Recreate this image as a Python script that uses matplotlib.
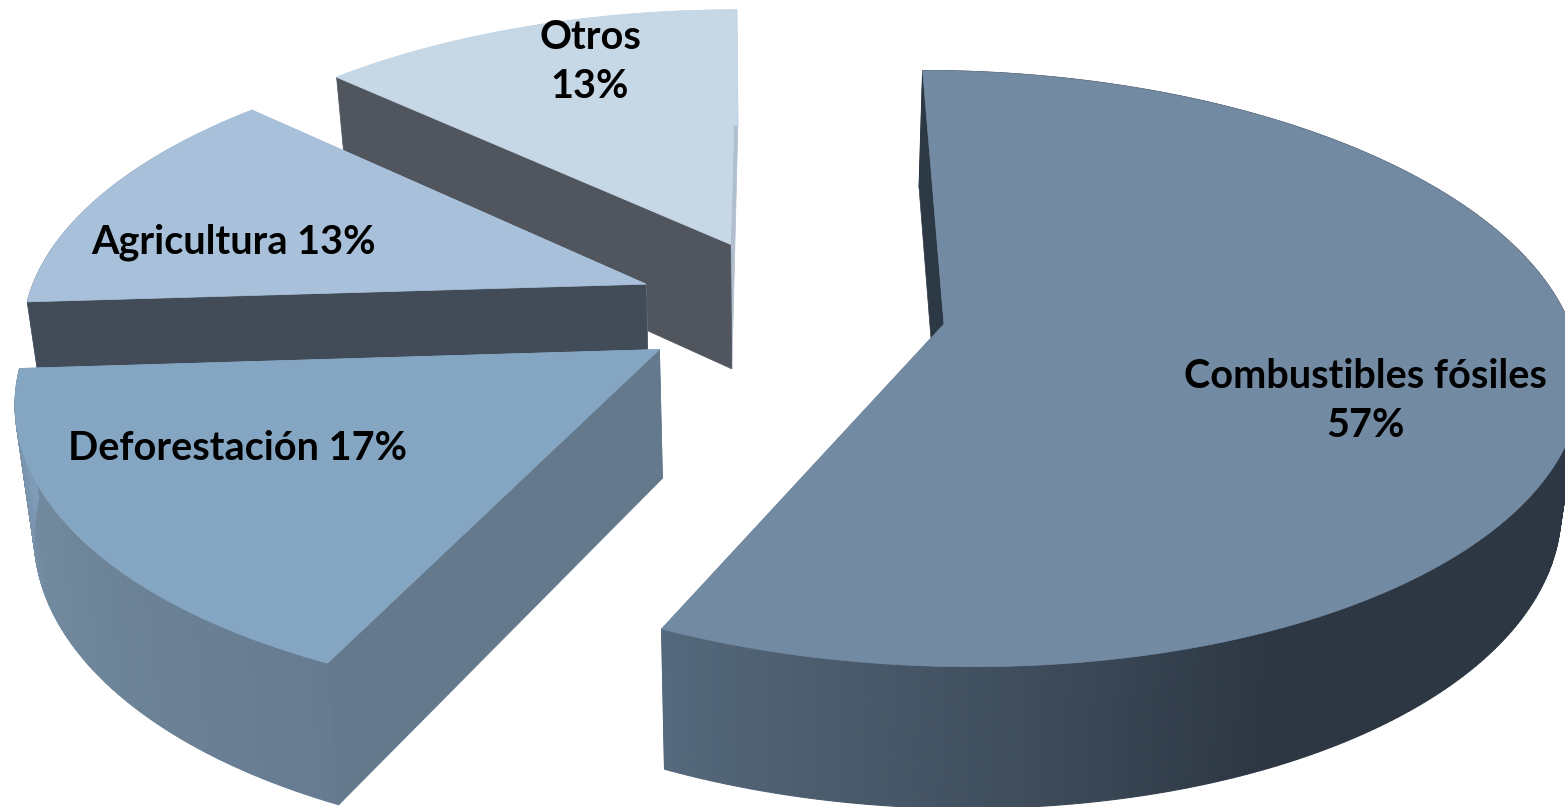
import numpy as np
import matplotlib
matplotlib.use("Agg")
import matplotlib.pyplot as plt
from matplotlib.colors import LinearSegmentedColormap

# Values
categories = ["Combustibles fósiles", "Deforestación", "Agricultura", "Otros"]
shares = [57, 17, 13, 13]
label_breaks = ["\n", " ", " ", "\n"]

# Colours per slice
top_colors = ["#738AA3", "#85A6C2", "#A8C0D9", "#C6D7E6"]
start_wall_colors = ["#2D3845", "#64798C", "#414C58", "#50555E"]
end_wall_colors = ["#738AA3", "#7F9BB7", "#A8C0D9", "#B0BECE"]
rim_colors = [
    [(0, "#2D3743"), (0.76, "#2D3743"), (0.86, "#3F4D5C"), (1, "#55697C")],
    [(0, "#667B90"), (0.4, "#6D8398"), (0.7, "#728A9F"), (1, "#7F9BB7")],
    [(0, "#7F93A8"), (1, "#A8C0D9")],
    [(0, "#C6D7E6"), (1, "#C6D7E6")],
]

# Camera and pie geometry (pixels)
CX, CY = 780.0, 300.0
SQUASH = 0.46
CAM_DIST = 4184.0
BOTTOM_SCALE = 0.975
CENTER = (10.7, 17.8)
RADIUS = 618.0
EXPLODE = 155.0
DEPTH = 130.0

label_xy = [(1365, 401), (237, 448), (233, 242), (590, 62)]


def project(x, y, bottom=False):
    x = np.asarray(x, dtype=float)
    y = np.asarray(y, dtype=float)
    f = CAM_DIST / (CAM_DIST - y)
    sx = x * f
    sy = SQUASH * y * f
    if bottom:
        sy = (sy + DEPTH * f) * BOTTOM_SCALE
        sx = sx * BOTTOM_SCALE
    return CX + sx, CY + sy


fig = plt.figure(figsize=(15.65, 8.07), dpi=100)
ax = fig.add_axes([0, 0, 1, 1])
ax.set_xlim(0, 1565)
ax.set_ylim(807, 0)
ax.axis("off")

# Slice angles, clockwise from 12 o'clock
edges = np.radians(np.concatenate([[0], np.cumsum(shares)]) * 3.6)

# Back slices first, so front faces cover them
for i in reversed(range(len(shares))):
    a0, a1 = edges[i], edges[i + 1]
    mid = (a0 + a1) / 2
    ax0 = CENTER[0] + EXPLODE * np.sin(mid)
    ay0 = CENTER[1] - EXPLODE * np.cos(mid)

    theta = np.linspace(a0, a1, 300)
    ox = ax0 + RADIUS * np.sin(theta)
    oy = ay0 - RADIUS * np.cos(theta)

    top_x, top_y = project(ox, oy)
    bot_x, bot_y = project(ox, oy, bottom=True)
    atx, aty = project(ax0, ay0)
    abx, aby = project(ax0, ay0, bottom=True)

    # Far cut face
    ax.fill([top_x[-1], atx, abx, bot_x[-1]], [top_y[-1], aty, aby, bot_y[-1]],
            color=end_wall_colors[i], lw=0.5)

    # Outer rim with its gradient
    cmap = LinearSegmentedColormap.from_list("rim", rim_colors[i], N=1024)
    for j in range(len(theta) - 1):
        c = cmap(j / (len(theta) - 2))
        ax.fill([top_x[j], top_x[j + 1], bot_x[j + 1], bot_x[j]],
                [top_y[j], top_y[j + 1], bot_y[j + 1], bot_y[j]],
                color=c, lw=0.8)

    # Near cut face goes over the rim of the back slices
    ax.fill([top_x[0], atx, abx, bot_x[0]], [top_y[0], aty, aby, bot_y[0]],
            color=start_wall_colors[i], lw=0.5)

    # Top face
    ax.fill(np.r_[atx, top_x], np.r_[aty, top_y], color=top_colors[i], lw=0.5)

for cat, val, sep, (lx, ly) in zip(categories, shares, label_breaks, label_xy):
    ax.text(lx, ly, f"{cat}{sep}{val}%", ha="center", va="center",
            fontsize=28.5, fontweight="bold", family="Lato", color="black",
            linespacing=1.38)

fig.savefig("out.png", dpi=100)
